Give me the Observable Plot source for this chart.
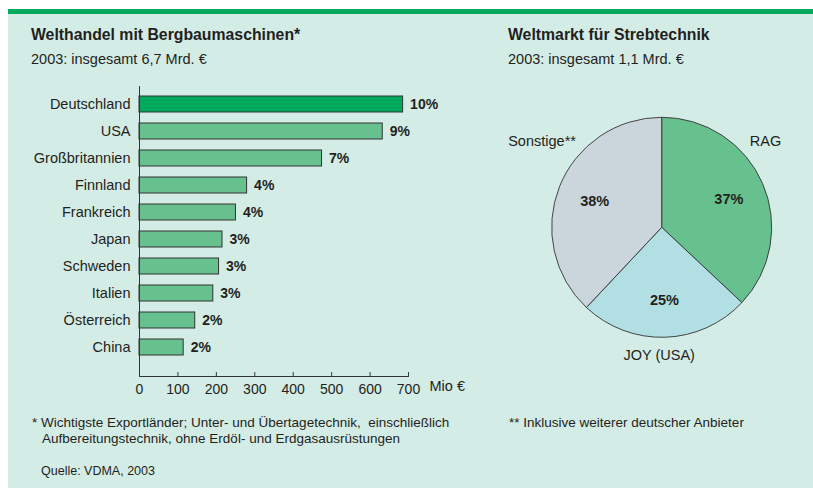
<!DOCTYPE html>
<html>
<head>
<meta charset="utf-8">
<script src="https://cdn.jsdelivr.net/npm/d3@7"></script>
<script src="https://cdn.jsdelivr.net/npm/@observablehq/plot@0.6"></script>
<style>
  html, body { margin: 0; padding: 0; background: #fff; }
  body { width: 813px; height: 488px; position: relative; overflow: hidden;
         font-family: "Liberation Sans", Arial, sans-serif; color: #231f20; }
  #panel { position: absolute; left: 8px; top: 9px; width: 805px; height: 474px;
           background: #d4ece6; border-top: 5px solid #00a95c; }
  .abs { position: absolute; white-space: nowrap; }
  .title { font-weight: bold; font-size: 15.8px; line-height: 19px; }
  .sub { font-size: 14.5px; line-height: 18px; }
  .note { font-size: 13.5px; line-height: 16px; }
  .src { font-size: 12.5px; line-height: 15px; }
  #bars, #pie { position: absolute; }
  #bars { left: 0; top: 0; }
  #pie { left: 480px; top: 100px; }
</style>
</head>
<body>
<div id="panel"></div>
<div class="abs title" style="left:31px; top:25px;">Welthandel mit Bergbaumaschinen*</div>
<div class="abs sub" style="left:31px; top:50px;">2003: insgesamt 6,7 Mrd. €</div>
<div class="abs title" style="left:508px; top:25px;">Weltmarkt für Strebtechnik</div>
<div class="abs sub" style="left:508px; top:50px;">2003: insgesamt 1,1 Mrd. €</div>
<div id="bars"></div>
<div id="pie"></div>
<div class="abs note" style="left:32px; top:415px; padding-left:10px; text-indent:-10px;">* Wichtigste Exportländer; Unter- und Übertagetechnik,&nbsp; einschließlich<br>Aufbereitungstechnik, ohne Erdöl- und Erdgasausrüstungen</div>
<div class="abs note" style="left:509px; top:415px;">** Inklusive weiterer deutscher Anbieter</div>
<div class="abs src" style="left:41px; top:464px;">Quelle: VDMA, 2003</div>
<script>
// ---- Data: bar chart (Mio €) ----
const countries = ["Deutschland", "USA", "Großbritannien", "Finnland", "Frankreich", "Japan", "Schweden", "Italien", "Österreich", "China"];
const exportsMio = [686, 633, 475, 280, 251, 216, 207, 192, 145, 115];
const sharePct = [10, 9, 7, 4, 4, 3, 3, 3, 2, 2];
const xTicks = [0, 100, 200, 300, 400, 500, 600, 700];
const xUnit = "Mio €";

// ---- Data: pie chart ----
const pieNames = ["RAG", "JOY (USA)", "Sonstige**"];
const pieShares = [37, 25, 38];

// ---- Styles ----
const darkGreen = "#00a95c", lightGreen = "#67c18e";
const pieColors = ["#67c18e", "#b1dfe4", "#cbd6dc"];
const ink = "#231f20";
const font = "\"Liberation Sans\", Arial, sans-serif";

const bars = countries.map((c, i) => ({country: c, value: exportsMio[i], pct: sharePct[i]}));

const tickShape = {draw(context, l) { context.moveTo(0, 0); context.lineTo(0, -l); }};

const barPlot = Plot.plot({
  width: 480, height: 399,
  marginLeft: 139, marginRight: 72, marginTop: 86, marginBottom: 23,
  style: {fontFamily: font, fontSize: "14.5px", color: ink, background: "transparent", overflow: "visible"},
  x: {domain: [0, 700]},
  y: {domain: countries, paddingInner: 0.39, paddingOuter: 0.393, align: 0.34},
  marks: [
    Plot.barX(bars, {x: "value", y: "country", fill: d => d.country === "Deutschland" ? darkGreen : lightGreen, stroke: "#333", strokeWidth: 1}),
    Plot.ruleX([0], {stroke: "#333", strokeWidth: 1}),
    Plot.frame({anchor: "bottom", stroke: "#333", strokeWidth: 1}),
    Plot.vector(xTicks, {x: d => d, frameAnchor: "bottom", length: 4, anchor: "start", rotate: 0, shape: tickShape, stroke: "#333", strokeWidth: 1}),
    Plot.axisX({ticks: xTicks, tickSize: 0, tickPadding: 8, label: null, fontSize: 14, fill: ink}),
    Plot.axisY({tickSize: 0, tickPadding: 9, label: null, fontSize: 14.5, fill: ink}),
    Plot.text(bars, {x: "value", y: "country", text: d => d.pct + "%", dx: 7, textAnchor: "start", fontWeight: "bold", fontSize: 14, fill: ink}),
    Plot.text([xUnit], {frameAnchor: "bottom-right", dx: 21, dy: 14, textAnchor: "start", fontSize: 14.5, fill: ink})
  ]
});
document.getElementById("bars").append(barPlot);

// ---- Pie ----
const pieData = pieNames.map((n, i) => ({name: n, value: pieShares[i], color: pieColors[i]}));
const arcs = d3.pie().value(d => d.value).sort(null).startAngle(0).endAngle(2 * Math.PI)(pieData);
const labelR = 0.66;
const pctLabels = arcs.map(a => {
  const m = (a.startAngle + a.endAngle) / 2;
  return {x: labelR * Math.sin(m), y: labelR * Math.cos(m), text: a.data.value + "%"};
});

const piePlot = Plot.plot({
  width: 333, height: 300,
  marginLeft: 71.7, marginRight: 41.3, marginTop: 17.3, marginBottom: 62.7,
  style: {fontFamily: font, fontSize: "14.5px", color: ink, background: "transparent", overflow: "visible"},
  x: {domain: [-1, 1], axis: null},
  y: {domain: [-1, 1], axis: null},
  marks: [
    (index, scales) => {
      const cx = scales.x(0), cy = scales.y(0), r = scales.x(1) - cx;
      const arc = d3.arc().innerRadius(0).outerRadius(r);
      const g = d3.create("svg:g").attr("transform", `translate(${cx},${cy})`);
      g.selectAll("path").data(arcs).join("path")
        .attr("d", arc).attr("fill", d => d.data.color)
        .attr("stroke", "#333").attr("stroke-width", 0.9).attr("stroke-linejoin", "round");
      return g.node();
    },
    Plot.text(pctLabels, {x: "x", y: "y", text: "text", fontWeight: "bold", fontSize: 14.5, fill: ink}),
    Plot.text([pieNames[0]], {frameAnchor: "top-right", dx: 9, dy: 18, textAnchor: "end", fill: ink}),
    Plot.text([pieNames[2]], {frameAnchor: "top-left", dx: -44, dy: 18, textAnchor: "start", fill: ink}),
    Plot.text([pieNames[1]], {frameAnchor: "bottom", dx: -3, dy: 22, fill: ink})
  ]
});
document.getElementById("pie").append(piePlot);
</script>
</body>
</html>
